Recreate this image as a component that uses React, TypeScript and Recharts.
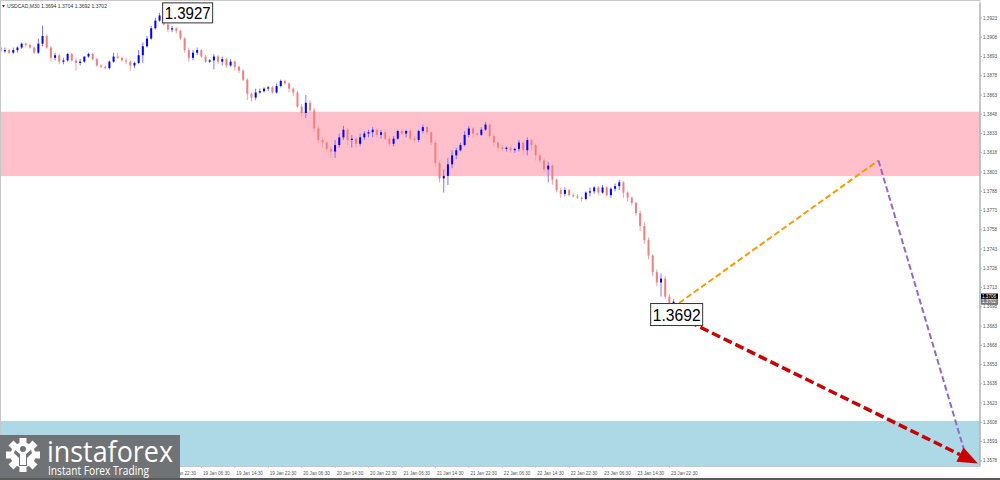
import { ComposedChart, Bar, XAxis, YAxis, ReferenceArea, ReferenceLine, ReferenceDot } from 'recharts'

// USDCAD candles, one per hour: [open, high, low, close]
const jan17 = [
  [1.3900, 1.3901, 1.3896, 1.3897], [1.3897, 1.3900, 1.3896, 1.3898], [1.3898, 1.3899, 1.3895, 1.3896],
  [1.3896, 1.3900, 1.3895, 1.3898], [1.3898, 1.3901, 1.3896, 1.3900], [1.3900, 1.3904, 1.3899, 1.3903],
  [1.3903, 1.3904, 1.3900, 1.3902], [1.3902, 1.3903, 1.3899, 1.3900], [1.3900, 1.3901, 1.3895, 1.3896],
  [1.3896, 1.3907, 1.3895, 1.3903], [1.3903, 1.3917, 1.3901, 1.3909], [1.3909, 1.3910, 1.3899, 1.3900],
  [1.3900, 1.3901, 1.3889, 1.3892], [1.3892, 1.3896, 1.3890, 1.3894], [1.3894, 1.3895, 1.3887, 1.3889],
  [1.3889, 1.3892, 1.3887, 1.3890], [1.3890, 1.3896, 1.3889, 1.3895], [1.3895, 1.3896, 1.3889, 1.3890],
]
const jan18 = [
  [1.3890, 1.3892, 1.3882, 1.3888], [1.3888, 1.3891, 1.3886, 1.3889], [1.3889, 1.3893, 1.3888, 1.3893],
  [1.3893, 1.3896, 1.3892, 1.3895], [1.3895, 1.3896, 1.3890, 1.3891], [1.3891, 1.3892, 1.3885, 1.3886],
  [1.3886, 1.3887, 1.3884, 1.3885], [1.3885, 1.3886, 1.3883, 1.3884], [1.3884, 1.3890, 1.3883, 1.3889],
  [1.3889, 1.3896, 1.3888, 1.3893], [1.3893, 1.3896, 1.3891, 1.3892], [1.3892, 1.3893, 1.3889, 1.3890],
  [1.3890, 1.3892, 1.3887, 1.3889], [1.3889, 1.3890, 1.3882, 1.3886], [1.3886, 1.3889, 1.3884, 1.3888],
  [1.3888, 1.3898, 1.3887, 1.3894], [1.3894, 1.3904, 1.3888, 1.3901], [1.3901, 1.3909, 1.3900, 1.3907],
  [1.3907, 1.3917, 1.3906, 1.3915], [1.3915, 1.3923, 1.3914, 1.3921], [1.3921, 1.3927, 1.3920, 1.3925],
  [1.3925, 1.3926, 1.3917, 1.3918], [1.3918, 1.3920, 1.3912, 1.3914], [1.3914, 1.3917, 1.3912, 1.3915],
]
const jan19 = [
  [1.3915, 1.3916, 1.3911, 1.3913], [1.3913, 1.3914, 1.3906, 1.3907], [1.3907, 1.3908, 1.3896, 1.3898],
  [1.3898, 1.3900, 1.3889, 1.3892], [1.3892, 1.3898, 1.3890, 1.3896], [1.3896, 1.3900, 1.3894, 1.3898],
  [1.3898, 1.3899, 1.3892, 1.3893], [1.3893, 1.3894, 1.3888, 1.3889], [1.3889, 1.3891, 1.3888, 1.3890],
  [1.3890, 1.3895, 1.3883, 1.3893], [1.3893, 1.3894, 1.3887, 1.3889], [1.3889, 1.3893, 1.3886, 1.3891],
  [1.3891, 1.3892, 1.3884, 1.3886], [1.3886, 1.3891, 1.3885, 1.3889], [1.3889, 1.3890, 1.3882, 1.3885],
  [1.3885, 1.3886, 1.3880, 1.3882], [1.3882, 1.3883, 1.3874, 1.3875], [1.3875, 1.3876, 1.3859, 1.3864],
  [1.3864, 1.3865, 1.3858, 1.3861], [1.3861, 1.3868, 1.3859, 1.3865], [1.3865, 1.3868, 1.3864, 1.3866],
  [1.3866, 1.3869, 1.3865, 1.3868], [1.3868, 1.3870, 1.3866, 1.3869], [1.3869, 1.3870, 1.3864, 1.3865],
]
const jan20 = [
  [1.3865, 1.3872, 1.3864, 1.3870], [1.3870, 1.3875, 1.3869, 1.3874], [1.3874, 1.3875, 1.3871, 1.3872],
  [1.3872, 1.3873, 1.3865, 1.3868], [1.3868, 1.3869, 1.3862, 1.3865], [1.3865, 1.3866, 1.3853, 1.3854],
  [1.3854, 1.3856, 1.3846, 1.3849], [1.3849, 1.3863, 1.3845, 1.3857], [1.3857, 1.3859, 1.3849, 1.3851],
  [1.3851, 1.3853, 1.3834, 1.3837], [1.3837, 1.3839, 1.3826, 1.3828], [1.3828, 1.3830, 1.3822, 1.3826],
  [1.3826, 1.3827, 1.3819, 1.3821], [1.3821, 1.3823, 1.3814, 1.3819], [1.3819, 1.3828, 1.3814, 1.3824],
  [1.3824, 1.3833, 1.3822, 1.3830], [1.3830, 1.3839, 1.3828, 1.3836], [1.3836, 1.3837, 1.3824, 1.3828],
  [1.3828, 1.3832, 1.3822, 1.3829], [1.3829, 1.3830, 1.3822, 1.3825], [1.3825, 1.3833, 1.3823, 1.3830],
  [1.3830, 1.3835, 1.3828, 1.3833], [1.3833, 1.3836, 1.3830, 1.3834], [1.3834, 1.3838, 1.3830, 1.3836],
]
const jan21 = [
  [1.3836, 1.3837, 1.3830, 1.3832], [1.3832, 1.3836, 1.3829, 1.3834], [1.3834, 1.3836, 1.3828, 1.3829],
  [1.3829, 1.3831, 1.3823, 1.3825], [1.3825, 1.3831, 1.3823, 1.3829], [1.3829, 1.3836, 1.3828, 1.3835],
  [1.3835, 1.3836, 1.3832, 1.3833], [1.3833, 1.3836, 1.3830, 1.3835], [1.3835, 1.3836, 1.3828, 1.3829],
  [1.3829, 1.3831, 1.3826, 1.3828], [1.3828, 1.3836, 1.3826, 1.3835], [1.3835, 1.3840, 1.3833, 1.3838],
  [1.3838, 1.3839, 1.3832, 1.3834], [1.3834, 1.3835, 1.3824, 1.3826], [1.3826, 1.3828, 1.3807, 1.3810],
  [1.3810, 1.3812, 1.3795, 1.3798], [1.3798, 1.3805, 1.3787, 1.3800], [1.3800, 1.3814, 1.3793, 1.3809],
  [1.3809, 1.3820, 1.3806, 1.3816], [1.3816, 1.3822, 1.3813, 1.3820], [1.3820, 1.3826, 1.3819, 1.3824],
  [1.3824, 1.3835, 1.3823, 1.3832], [1.3832, 1.3839, 1.3830, 1.3837], [1.3837, 1.3838, 1.3830, 1.3833],
]
const jan22 = [
  [1.3833, 1.3834, 1.3831, 1.3832], [1.3832, 1.3838, 1.3831, 1.3836], [1.3836, 1.3842, 1.3835, 1.3840],
  [1.3840, 1.3841, 1.3829, 1.3831], [1.3831, 1.3833, 1.3823, 1.3826], [1.3826, 1.3827, 1.3819, 1.3822],
  [1.3822, 1.3824, 1.3819, 1.3821], [1.3821, 1.3823, 1.3819, 1.3822], [1.3822, 1.3823, 1.3818, 1.3820],
  [1.3820, 1.3822, 1.3818, 1.3821], [1.3821, 1.3828, 1.3819, 1.3826], [1.3826, 1.3827, 1.3816, 1.3820],
  [1.3820, 1.3830, 1.3816, 1.3828], [1.3828, 1.3829, 1.3820, 1.3824], [1.3824, 1.3825, 1.3812, 1.3816],
  [1.3816, 1.3818, 1.3810, 1.3812], [1.3812, 1.3814, 1.3803, 1.3805], [1.3805, 1.3811, 1.3795, 1.3808],
  [1.3808, 1.3809, 1.3793, 1.3797], [1.3797, 1.3798, 1.3787, 1.3789], [1.3789, 1.3791, 1.3783, 1.3786],
  [1.3786, 1.3791, 1.3784, 1.3789], [1.3789, 1.3790, 1.3784, 1.3785], [1.3785, 1.3787, 1.3783, 1.3784],
]
const jan23 = [
  [1.3784, 1.3786, 1.3782, 1.3783], [1.3783, 1.3784, 1.3780, 1.3782], [1.3782, 1.3788, 1.3781, 1.3787],
  [1.3787, 1.3791, 1.3784, 1.3788], [1.3788, 1.3792, 1.3786, 1.3791], [1.3791, 1.3792, 1.3785, 1.3787],
  [1.3787, 1.3793, 1.3786, 1.3791], [1.3791, 1.3792, 1.3784, 1.3785], [1.3785, 1.3791, 1.3783, 1.3790],
  [1.3790, 1.3794, 1.3788, 1.3792], [1.3792, 1.3797, 1.3789, 1.3795], [1.3795, 1.3796, 1.3783, 1.3787],
  [1.3787, 1.3788, 1.3780, 1.3783], [1.3783, 1.3784, 1.3777, 1.3779], [1.3779, 1.3780, 1.3769, 1.3771],
  [1.3771, 1.3773, 1.3757, 1.3761], [1.3761, 1.3764, 1.3747, 1.3750], [1.3750, 1.3752, 1.3735, 1.3738],
  [1.3738, 1.3739, 1.3722, 1.3725], [1.3725, 1.3727, 1.3714, 1.3717], [1.3717, 1.3724, 1.3706, 1.3720],
  [1.3720, 1.3722, 1.3704, 1.3706], [1.3706, 1.3708, 1.3693, 1.3695], [1.3694, 1.3704, 1.3692, 1.3702],
]

const timeLabels = [
  '17 Jan 06:30', '17 Jan 14:30', '17 Jan 22:30', '18 Jan 06:30', '18 Jan 14:30', '18 Jan 22:30',
  '19 Jan 06:30', '19 Jan 14:30', '19 Jan 22:30', '20 Jan 06:30', '20 Jan 14:30', '20 Jan 22:30',
  '21 Jan 06:30', '21 Jan 14:30', '21 Jan 22:30', '22 Jan 06:30', '22 Jan 14:30', '22 Jan 22:30',
  '23 Jan 06:30', '23 Jan 14:30', '23 Jan 22:30',
]
const priceTicks = [
  1.3578, 1.3593, 1.3608, 1.3623, 1.3638, 1.3653, 1.3668, 1.3683, 1.3698, 1.3713, 1.3728, 1.3743,
  1.3758, 1.3773, 1.3788, 1.3803, 1.3818, 1.3833, 1.3848, 1.3863, 1.3878, 1.3893, 1.3908, 1.3923,
]

const resistanceZone = [1.3800, 1.3850]
const supportZone = [1.3574, 1.3609]

// forecast waves (hour index, price)
const orangeWave = [{ t: 162.3, p: 1.3701 }, { t: 210, p: 1.3812 }]
const purpleWave = [{ t: 210, p: 1.3812 }, { t: 230.8, p: 1.3583 }]
const redTarget = [{ t: 161.8, p: 1.3691 }, { t: 233.8, p: 1.3576 }]

const highMark = { t: 38, p: 1.3927 }
const lowMark = { t: 161, p: 1.3692 }
const priceTags = [{ p: 1.3706, fill: '#000000' }, { p: 1.3702, fill: '#7a7a7a' }]

const candles = [...jan17, ...jan18, ...jan19, ...jan20, ...jan21, ...jan22, ...jan23]
const rows = candles.map(([o, h, l, c], i) => ({ t: i, range: [l, h], o, h, l, c }))

const X_DOMAIN = [-0.2, 234.3]
const Y_DOMAIN = [1.3574, 1.39347]
const FONT = 'Liberation Sans, Arial, sans-serif'

const Candle = (props: any) => {
  const { x, y, width, height, payload } = props
  if (!payload || !height) return null
  const { o, h, l, c } = payload
  const up = c >= o
  const toY = (v: number) => y + ((h - v) / (h - l)) * height
  const mid = x + width / 2
  const top = toY(Math.max(o, c))
  const bottom = toY(Math.min(o, c))
  return (
    <g>
      <line x1={mid} x2={mid} y1={y} y2={y + height} stroke={up ? '#7878ff' : '#f3a3a3'} strokeWidth={1} />
      <rect x={x} y={top} width={width} height={Math.max(1, bottom - top)} fill={up ? '#0000ff' : '#f08080'} />
    </g>
  )
}

const PriceTick = (props: any) => {
  const { x, y, payload } = props
  return (
    <g>
      <line x1={x} x2={x + 2} y1={y} y2={y} stroke="#888" strokeWidth={0.6} />
      <text x={x + 3} y={y + 1.6} fontSize={4.6} fill="#555" fontFamily={FONT}>{payload.value.toFixed(4)}</text>
    </g>
  )
}

const TimeTick = (props: any) => {
  const { x, y, payload } = props
  return (
    <g>
      <line x1={x} x2={x} y1={y} y2={y + 2} stroke="#999" strokeWidth={0.6} />
      <text x={x + 1.5} y={y + 8.5} fontSize={4.6} fill="#555" fontFamily={FONT}>{timeLabels[payload.value / 8]}</text>
    </g>
  )
}

const dashedSegment = (color: string, width: number, dash: string, arrow = false) => (props: any) => {
  const { x1, y1, x2, y2 } = props
  const ang = Math.atan2(y2 - y1, x2 - x1)
  const len = 20
  const half = 8
  const bx = x2 - Math.cos(ang) * len
  const by = y2 - Math.sin(ang) * len
  const nx = -Math.sin(ang) * half
  const ny = Math.cos(ang) * half
  return (
    <g>
      <line x1={x1} y1={y1} x2={arrow ? bx : x2} y2={arrow ? by : y2} stroke={color} strokeWidth={width} strokeDasharray={dash} />
      {arrow && <polygon points={`${x2},${y2} ${bx + nx},${by + ny} ${bx - nx},${by - ny}`} fill={color} />}
    </g>
  )
}

// boxed value label drawn at the start point of a segment
const valueBox = (text: string, dx: number, w: number, h: number) => (props: any) => {
  const { x1, y1 } = props
  const left = x1 + dx
  return (
    <g>
      <rect x={left} y={y1 - h / 2} width={w} height={h} fill="#fff" stroke="#333" strokeWidth={1} />
      <text x={left + 2} y={y1 + 6} fontSize={17} fill="#000" fontFamily={FONT} textLength={w - 4} lengthAdjust="spacingAndGlyphs">{text}</text>
    </g>
  )
}

const tagBox = (text: string, fill: string) => (props: any) => {
  const { cx, cy } = props
  return (
    <g>
      <rect x={cx + 1} y={cy - 3} width={17} height={6} fill={fill} />
      <text x={cx + 2} y={cy + 1.7} fontSize={4.6} fill="#fff" fontFamily={FONT}>{text}</text>
    </g>
  )
}

const Logo = () => {
  const teeth = [0, 45, 90, 135, 180, 225, 270, 315]
  return (
    <g>
      <rect x={0} y={435} width={180} height={43} fill="#6f7376" />
      <g transform="translate(23,455)">
        {teeth.map((a) => (
          <rect key={a} x={-3.5} y={-17} width={7} height={8} fill="#fff" transform={`rotate(${a})`} />
        ))}
        <circle r={12.5} fill="#fff" />
        <circle cx={0} cy={-6} r={3} fill="#6f7376" />
        <path d="M-8,-5 L-3,-1 L-3,10 L3,10 L3,-1 L8,-5 L9,-2 L4,3 L4,11 L-4,11 L-4,3 L-9,-2 Z" fill="#6f7376" />
      </g>
      <text x={47} y={462} fontSize={30} fill="#fff" fontFamily="Open Sans, sans-serif" textLength={126} lengthAdjust="spacingAndGlyphs">instaforex</text>
      <text x={48} y={475} fontSize={13.5} fill="#fff" fontFamily="Open Sans, sans-serif" textLength={101} lengthAdjust="spacingAndGlyphs">Instant Forex Trading</text>
    </g>
  )
}

export default function App() {
  return (
    <div style={{ position: 'absolute', left: 0, top: 0, width: 1000, height: 480, background: '#fff', overflow: 'hidden' }}>
      <ComposedChart width={1000} height={480} data={rows} margin={{ top: 3, right: 0, bottom: 0, left: 0 }}>
        <XAxis
          dataKey="t"
          type="number"
          domain={X_DOMAIN}
          allowDataOverflow
          ticks={timeLabels.map((_, i) => i * 8)}
          interval={0}
          tick={<TimeTick />}
          tickLine={false}
          axisLine={false}
          tickSize={0}
          tickMargin={0}
          height={14}
        />
        <YAxis
          orientation="right"
          type="number"
          domain={Y_DOMAIN}
          allowDataOverflow
          ticks={priceTicks}
          interval={0}
          tick={<PriceTick />}
          tickLine={false}
          axisLine={{ stroke: '#888' }}
          tickSize={0}
          tickMargin={0}
          width={20}
        />
        <ReferenceArea y1={resistanceZone[0]} y2={resistanceZone[1]} fill="#ffc0cb" fillOpacity={1} stroke="none" ifOverflow="visible" />
        <ReferenceArea y1={supportZone[0]} y2={supportZone[1]} fill="#add8e6" fillOpacity={1} stroke="none" ifOverflow="visible" />
        <Bar dataKey="range" barSize={2} shape={Candle} isAnimationActive={false} />
        <ReferenceLine
          segment={[{ x: orangeWave[0].t, y: orangeWave[0].p }, { x: orangeWave[1].t, y: orangeWave[1].p }]}
          shape={dashedSegment('#ff9900', 2, '6 3')}
          ifOverflow="visible"
        />
        <ReferenceLine
          segment={[{ x: purpleWave[0].t, y: purpleWave[0].p }, { x: purpleWave[1].t, y: purpleWave[1].p }]}
          shape={dashedSegment('#9966cc', 2, '6 3')}
          ifOverflow="visible"
        />
        <ReferenceLine
          segment={[{ x: redTarget[0].t, y: redTarget[0].p }, { x: redTarget[1].t, y: redTarget[1].p }]}
          shape={dashedSegment('#cc0000', 3.5, '9 4', true)}
          ifOverflow="visible"
        />
        <ReferenceLine
          segment={[{ x: highMark.t, y: highMark.p }, { x: highMark.t + 10, y: highMark.p }]}
          shape={valueBox(highMark.p.toFixed(4), 3, 50, 20)}
          ifOverflow="visible"
        />
        <ReferenceLine
          segment={[{ x: lowMark.t, y: lowMark.p }, { x: redTarget[1].t, y: redTarget[1].p }]}
          shape={valueBox(lowMark.p.toFixed(4), -23, 52, 22)}
          ifOverflow="visible"
        />
        {priceTags.map((tag) => (
          <ReferenceDot key={tag.p} x={X_DOMAIN[1]} y={tag.p} r={0} shape={tagBox(tag.p.toFixed(4), tag.fill)} ifOverflow="visible" />
        ))}
      </ComposedChart>
      <svg width={1000} height={480} style={{ position: 'absolute', left: 0, top: 0, pointerEvents: 'none' }}>
        <rect x={0.5} y={0.5} width={979.5} height={466} fill="none" stroke="#c8c8c8" strokeWidth={1} />
        <polygon points="2,5 5,5 3.5,7.5" fill="#333" />
        <text x={7} y={7.5} fontSize={5} fill="#333" fontFamily={FONT} textLength={100} lengthAdjust="spacingAndGlyphs">
          USDCAD,M30  1.3694 1.3704 1.3692 1.3702
        </text>
        <Logo />
        <rect x={0} y={478} width={1000} height={2} fill="#5a5a5a" />
      </svg>
    </div>
  )
}
